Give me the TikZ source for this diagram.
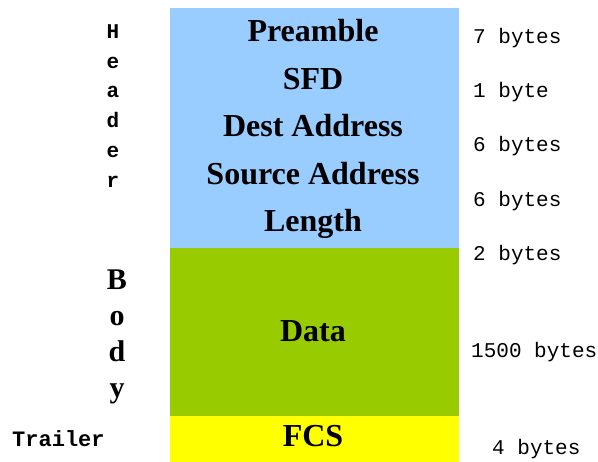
\documentclass[tikz,border=0pt]{standalone}
\usepackage{fontspec}
\setmainfont{Liberation Serif}
\setmonofont{Liberation Mono}
\definecolor{hdrblue}{HTML}{99CCFF}
\definecolor{bodygreen}{HTML}{99CC00}
\definecolor{trlyellow}{HTML}{FFFF00}
\tikzset{
  part/.style={inner sep=0pt, anchor=base, font=\fontsize{32}{32}\selectfont\bfseries},
  nbytes/.style={inner sep=0pt, anchor=base west, font=\fontsize{21}{21}\selectfont\ttfamily},
  tag/.style={inner sep=0pt, anchor=base, font=\fontsize{21}{21}\selectfont\ttfamily\bfseries},
  bigtag/.style={inner sep=0pt, anchor=base, font=\fontsize{30}{30}\selectfont\bfseries}
}
\begin{document}
\begin{tikzpicture}[x=1pt,y=-1pt]
\useasboundingbox (0,0) rectangle (598,462);
% frame blocks
\fill[hdrblue] (170,8) rectangle (459,248);
\fill[bodygreen] (170,248) rectangle (459,416);
\fill[trlyellow] (170,416) rectangle (459,462);
% fields
\node[part] (pre) at (313,42) {Preamble};
\node[part] (sfd) at (313,89.5) {SFD};
\node[part] (dst) at (313,137) {Dest Address};
\node[part] (src) at (313,185) {Source Address};
\node[part] (len) at (313,232) {Length};
\node[part] (dat) at (313,342) {Data};
\node[part] (fcs) at (313,447) {FCS};
% sizes
\node[nbytes] (s1) at (473,44) {7 bytes};
\node[nbytes] (s2) at (473,98) {1 byte};
\node[nbytes] (s3) at (473,152) {6 bytes};
\node[nbytes] (s4) at (473,207) {6 bytes};
\node[nbytes] (s5) at (473,261) {2 bytes};
\node[nbytes] (s6) at (471,358) {1500 bytes};
\node[nbytes] (s7) at (492,455) {4 bytes};
% left side
\foreach \l [count=\i] in {H,e,a,d,e,r}
  \node[tag] (hdr\i) at (113,8.5+29.8*\i) {\l};
\foreach \l [count=\i] in {B,o,d,y}
  \node[bigtag] (bdy\i) at (117,254+36*\i) {\l};
\node[tag, anchor=base west, font=\fontsize{22}{22}\selectfont\ttfamily\bfseries] (trl) at (12,447) {Trailer};
\end{tikzpicture}
\end{document}
